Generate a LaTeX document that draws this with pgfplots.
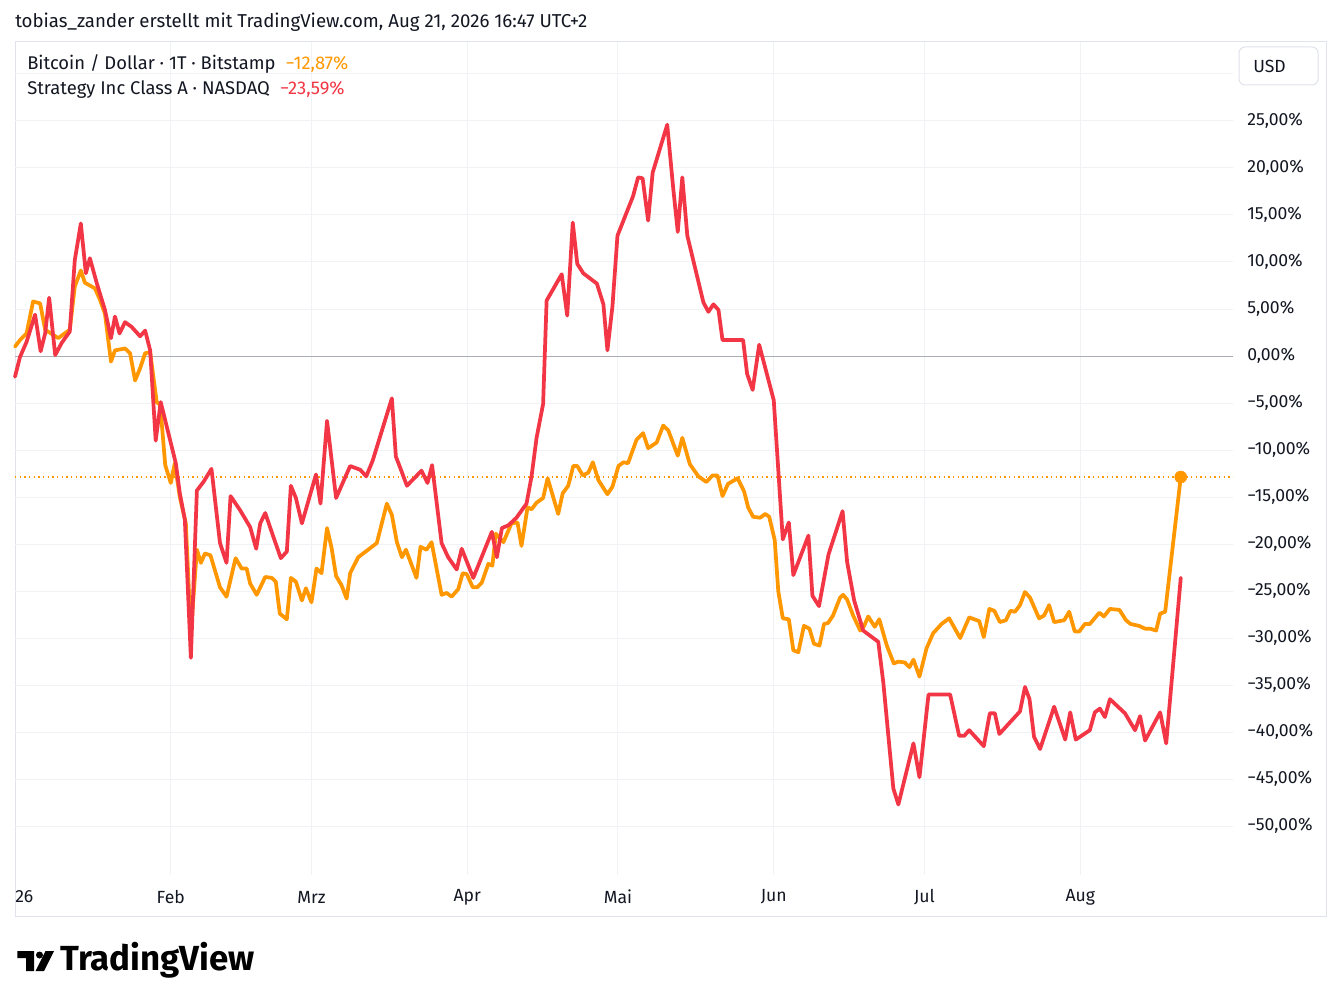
\documentclass[border=0pt]{standalone}
\usepackage{pgfplots}
\pgfplotsset{compat=1.18}
\usepackage{fontspec}
\setmainfont{Fira Sans}
\definecolor{tvorange}{RGB}{255,152,0}
\definecolor{tvred}{RGB}{242,54,69}
\definecolor{tvgrid}{RGB}{240,242,246}
\definecolor{tvborder}{RGB}{224,227,235}
\definecolor{tvtext}{RGB}{19,23,34}
\definecolor{tvzero}{RGB}{170,173,180}
\newcommand{\tvf}{\fontsize{13.2bp}{15bp}\selectfont}
\newcommand{\tvl}{\fontsize{13.8bp}{16bp}\selectfont}
\begin{document}
\begin{tikzpicture}[x=0.75bp,y=0.75bp]
\path[use as bounding box] (0,0) rectangle (1341,1007);
\fill[white] (0,0) rectangle (1341,1007);
\draw[tvborder, line width=0.75bp] (15,91) rectangle (1326,965);
\node[anchor=west, inner sep=0, text=tvtext, font=\fontsize{14bp}{16bp}\selectfont] at (15,985) {tobias\_zander erstellt mit TradingView.com, Aug 21, 2026 16:47 UTC+2};

\begin{axis}[
  at={(11.25bp,99bp)}, anchor=south west, scale only axis,
  width=913.5bp, height=624.75bp,
  xmin=0, xmax=242.4, ymin=-55.2, ymax=33.4,
  axis line style={draw=none},
  xtick={31,59,90,120,151,181,212},
  xticklabels={Feb,Mrz,Apr,Mai,Jun,Jul,Aug},
  ytick={-50,-45,...,30},
  yticklabels={{−50,00\%},{−45,00\%},{−40,00\%},{−35,00\%},{−30,00\%},{−25,00\%},{−20,00\%},{−15,00\%},{−10,00\%},{−5,00\%},{0,00\%},{5,00\%},{10,00\%},{15,00\%},{20,00\%},{25,00\%},{}},
  yticklabel pos=right,
  tick style={draw=none},
  grid=major,
  major grid style={tvgrid, line width=0.75bp},
  ticklabel style={font=\tvf, text=tvtext, inner sep=0pt},
  xticklabel style={anchor=center, yshift=-16.5bp},
  yticklabel style={anchor=west, xshift=10.5bp},
  clip=false,
]
\addplot[tvzero, line width=0.75bp] coordinates {(0,0)(242.4,0)};
\addplot[tvorange, line width=0.9bp, dash pattern=on 0.9bp off 2.6bp] coordinates {(0,-12.87)(242.4,-12.87)};
% Bitcoin / Dollar
\addplot[tvorange, line width=2.8bp, line join=round, line cap=round] coordinates {
(0,1.0)(1.0,1.7)(2.3,2.4)(3.6,5.8)(5.0,5.6)(6.0,2.8)(8.6,1.9)(10.9,2.8)(11.9,7.4)(13.1,9.1)(13.9,7.8)(15.9,7.2)(16.9,6.0)(17.9,4.5)(19.1,-0.6)(19.9,0.6)(21.9,0.8)(22.9,0.3)(23.9,-2.6)(24.9,-1.3)(25.9,0.3)(26.9,0.4)(28.2,-4.9)(28.9,-5.2)(29.9,-11.6)(31.0,-13.5)(31.8,-11.4)(32.8,-15.0)(34.0,-17.8)(35.0,-29.5)(36.2,-20.6)(37.0,-22.0)(37.8,-21.0)(38.9,-21.2)(40.8,-24.6)(42.1,-25.6)(43.9,-21.5)(45.1,-22.6)(46.1,-22.6)(46.8,-24.2)(48.1,-25.4)(49.8,-23.5)(51.1,-23.6)(51.9,-24.0)(52.7,-27.4)(54.1,-28.0)(54.9,-23.6)(55.9,-24.0)(57.1,-26.0)(57.9,-24.7)(59.0,-26.2)(60.0,-22.6)(61.0,-23.1)(62.1,-18.3)(63.0,-20.4)(63.9,-23.4)(65.0,-24.4)(66.0,-25.8)(66.7,-23.1)(68.3,-21.4)(72.0,-19.9)(74.0,-15.7)(75.0,-16.9)(76.0,-19.8)(77.0,-21.4)(77.8,-20.6)(79.9,-23.6)(80.7,-20.3)(81.9,-20.6)(82.9,-19.8)(83.9,-22.6)(84.9,-25.4)(85.9,-25.2)(86.9,-25.6)(88.2,-24.8)(89.1,-23.1)(89.9,-23.2)(91.1,-24.6)(92.0,-24.6)(92.9,-24.1)(94.2,-22.1)(95.0,-22.3)(95.7,-18.9)(97.2,-19.8)(98.8,-17.8)(100.0,-17.7)(100.8,-20.2)(102.0,-16.1)(102.8,-16.3)(103.8,-15.6)(105.1,-15.1)(106.0,-13.0)(108.1,-16.8)(109.0,-14.6)(110.1,-13.8)(111.1,-11.7)(111.9,-11.7)(113.0,-12.7)(114.1,-12.4)(115.0,-11.3)(116.1,-13.2)(117.9,-14.7)(118.9,-13.9)(120.1,-11.7)(121.1,-11.3)(122.0,-11.4)(123.7,-8.9)(125.0,-8.2)(126.0,-9.8)(127.7,-9.2)(129.0,-7.4)(130.0,-7.9)(131.9,-10.6)(132.8,-8.7)(134.3,-11.5)(136.0,-12.8)(137.6,-13.4)(138.8,-12.7)(139.8,-12.7)(140.8,-14.9)(141.9,-13.6)(143.8,-13.0)(145.1,-14.4)(145.9,-16.1)(146.9,-17.1)(148.3,-17.2)(149.3,-16.8)(150.1,-17.1)(151.2,-19.6)(151.9,-25.0)(152.8,-27.9)(154.0,-28.0)(154.9,-31.3)(155.9,-31.5)(157.0,-28.7)(158.1,-29.0)(159.0,-30.6)(160.1,-30.8)(161.0,-28.5)(161.8,-28.4)(162.8,-27.6)(164.2,-25.7)(164.8,-25.4)(165.6,-25.9)(166.8,-27.6)(168.2,-29.2)(169.0,-28.7)(169.8,-27.7)(171.1,-28.8)(172.0,-28.0)(173.5,-30.8)(174.9,-32.7)(175.8,-32.5)(177.1,-32.6)(178.0,-33.1)(178.8,-32.3)(180.0,-34.1)(181.4,-31.1)(182.7,-29.5)(184.4,-28.5)(185.9,-27.9)(188.1,-30.0)(189.9,-27.8)(191.9,-28.2)(192.8,-29.9)(193.9,-26.9)(194.9,-27.1)(196.0,-28.3)(197.2,-28.1)(198.1,-27.1)(199.0,-27.2)(200.0,-26.5)(201.0,-25.1)(202.0,-25.7)(203.8,-27.9)(204.8,-27.6)(205.8,-26.5)(206.8,-28.3)(208.8,-28.1)(209.8,-27.2)(210.9,-29.3)(211.8,-29.3)(212.9,-28.5)(213.9,-28.5)(215.8,-27.3)(216.7,-27.7)(217.9,-26.9)(219.8,-27.0)(221.1,-28.1)(222.0,-28.5)(223.7,-28.7)(224.9,-29.0)(225.9,-29.0)(227.1,-29.2)(227.9,-27.4)(228.9,-27.2)(232.0,-12.87)
};
% Strategy Inc Class A
\addplot[tvred, line width=2.8bp, line join=round, line cap=round] coordinates {
(0,-2.2)(1.0,-0.1)(2.3,1.5)(4.0,4.4)(5.1,0.5)(6.0,2.4)(6.8,6.2)(8.0,0.1)(9.3,1.4)(10.9,2.6)(11.9,10.2)(13.1,14.1)(14.1,8.8)(14.9,10.4)(16.3,7.7)(17.9,4.9)(19.1,1.9)(19.9,4.2)(20.8,2.4)(21.9,3.6)(23.2,3.1)(24.9,2.1)(25.9,2.7)(26.9,0.6)(28.0,-9.0)(29.0,-4.9)(30.2,-7.5)(32.0,-11.4)(32.8,-14.6)(33.8,-17.4)(35.0,-32.1)(36.2,-14.3)(37.5,-13.4)(39.1,-12.0)(40.8,-19.9)(42.1,-22.0)(42.9,-14.9)(44.8,-16.4)(46.8,-18.2)(48.0,-20.5)(48.8,-17.8)(49.8,-16.7)(51.4,-19.2)(52.9,-21.5)(54.1,-20.8)(54.9,-13.8)(55.9,-15.1)(57.1,-17.8)(59.9,-12.6)(60.8,-15.7)(62.1,-6.9)(63.9,-15.1)(66.7,-11.7)(68.7,-12.1)(69.9,-12.8)(71.2,-11.1)(75.0,-4.5)(75.8,-10.7)(76.6,-11.8)(78.0,-13.8)(80.9,-12.2)(82.1,-13.5)(83.0,-11.6)(84.9,-19.9)(86.2,-21.4)(87.9,-22.7)(88.9,-20.5)(91.2,-23.6)(94.9,-18.7)(95.9,-21.4)(96.9,-18.3)(98.2,-18.0)(99.8,-17.2)(101.8,-15.7)(102.8,-12.8)(103.8,-8.7)(105.1,-5.1)(105.8,5.9)(108.8,8.7)(109.9,4.3)(111.0,14.2)(111.9,9.8)(113.1,8.8)(115.8,7.7)(117.1,5.5)(117.9,0.6)(118.9,5.3)(119.9,12.8)(123.0,17.0)(124.0,19.0)(124.9,18.9)(126.0,14.4)(126.9,19.5)(129.8,24.6)(131.0,17.8)(131.9,13.2)(132.8,19.0)(133.8,12.8)(137.0,5.7)(138.0,4.7)(139.0,5.5)(140.0,4.9)(140.8,1.7)(144.9,1.7)(145.7,-1.9)(146.8,-3.6)(148.1,1.2)(151.0,-4.7)(152.8,-19.5)(154.0,-17.7)(154.9,-23.3)(157.9,-19.1)(158.7,-25.5)(160.0,-26.6)(161.9,-21.1)(164.7,-16.5)(165.6,-21.9)(167.0,-26.0)(168.8,-29.2)(171.8,-30.4)(172.8,-34.7)(174.8,-46.0)(175.8,-47.7)(178.8,-41.2)(180.0,-44.8)(181.8,-36.0)(186.1,-36.0)(187.9,-40.4)(188.9,-40.4)(189.9,-39.8)(192.8,-41.5)(194.0,-38.0)(195.0,-38.0)(195.9,-40.2)(200.0,-37.8)(201.0,-35.2)(201.9,-36.5)(202.8,-40.5)(204.0,-41.8)(206.8,-37.3)(209.0,-40.8)(210.0,-37.9)(211.1,-40.8)(213.9,-39.8)(214.9,-37.9)(215.9,-37.5)(216.9,-38.4)(217.9,-36.5)(220.9,-38.0)(222.9,-39.8)(223.9,-38.3)(224.9,-40.9)(227.9,-37.9)(229.1,-41.2)(232.0,-23.59)
};
\addplot[only marks, mark=*, mark size=4.5bp, tvorange, mark options={draw=tvorange, fill=tvorange}] coordinates {(232.0,-12.87)};
\end{axis}

% legend
\node[anchor=west, inner sep=0, text=tvtext, font=\tvl] at (27,943) {Bitcoin / Dollar · 1T · Bitstamp\hspace{0.55em}\textcolor{tvorange}{−12,87\%}};
\node[anchor=west, inner sep=0, text=tvtext, font=\tvl] at (27,917) {Strategy Inc Class A · NASDAQ\hspace{0.55em}\textcolor{tvred}{−23,59\%}};
% USD box
\draw[tvborder, line width=0.75bp, rounded corners=4.5bp] (1239,922) rectangle (1318,960);
\node[anchor=west, inner sep=0, text=tvtext, font=\tvf] at (1253,941) {USD};
% year label
\node[anchor=west, inner sep=0, text=tvtext, font=\tvf] at (15,110) {26};
% TradingView logo
\fill[black] (17.3,56) -- (34,56) -- (34,36) -- (26.2,36) -- (26.2,49) -- (17.3,49) -- cycle;
\fill[black] (39.5,52) circle (3.5);
\fill[black] (45.5,56) -- (54,56) -- (44,36) -- (35.5,36) -- cycle;
\node[anchor=west, inner sep=0] at (60,46.5) {\resizebox{146bp}{!}{\bfseries TradingView}};
\end{tikzpicture}
\end{document}
